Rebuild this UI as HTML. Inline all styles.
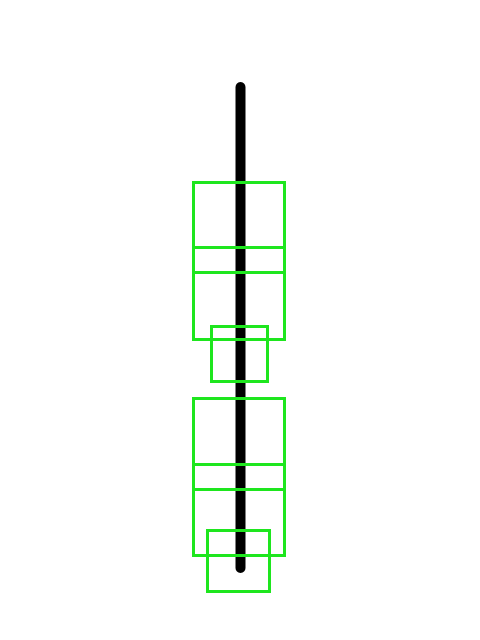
<!DOCTYPE html>
<html>
<head>
<meta charset="utf-8">
<style>
html,body{margin:0;padding:0;background:#fff;width:480px;height:640px;overflow:hidden;}
svg{display:block;}
</style>
</head>
<body>
<svg width="480" height="640" viewBox="0 0 480 640">
  <rect x="0" y="0" width="480" height="640" fill="#fff"/>
  <line x1="240.5" y1="87" x2="240.5" y2="568" stroke="#000" stroke-width="10" stroke-linecap="round"/>
  <g fill="none" stroke="#1ee61e" stroke-width="3">
    <rect x="193.5" y="182.5" width="91" height="90"/>
    <rect x="193.5" y="247.5" width="91" height="92"/>
    <rect x="211.5" y="326.5" width="56" height="55"/>
    <rect x="193.5" y="398.5" width="91" height="91"/>
    <rect x="193.5" y="464.5" width="91" height="91"/>
    <rect x="207.5" y="530.5" width="62" height="61"/>
  </g>
</svg>
</body>
</html>
